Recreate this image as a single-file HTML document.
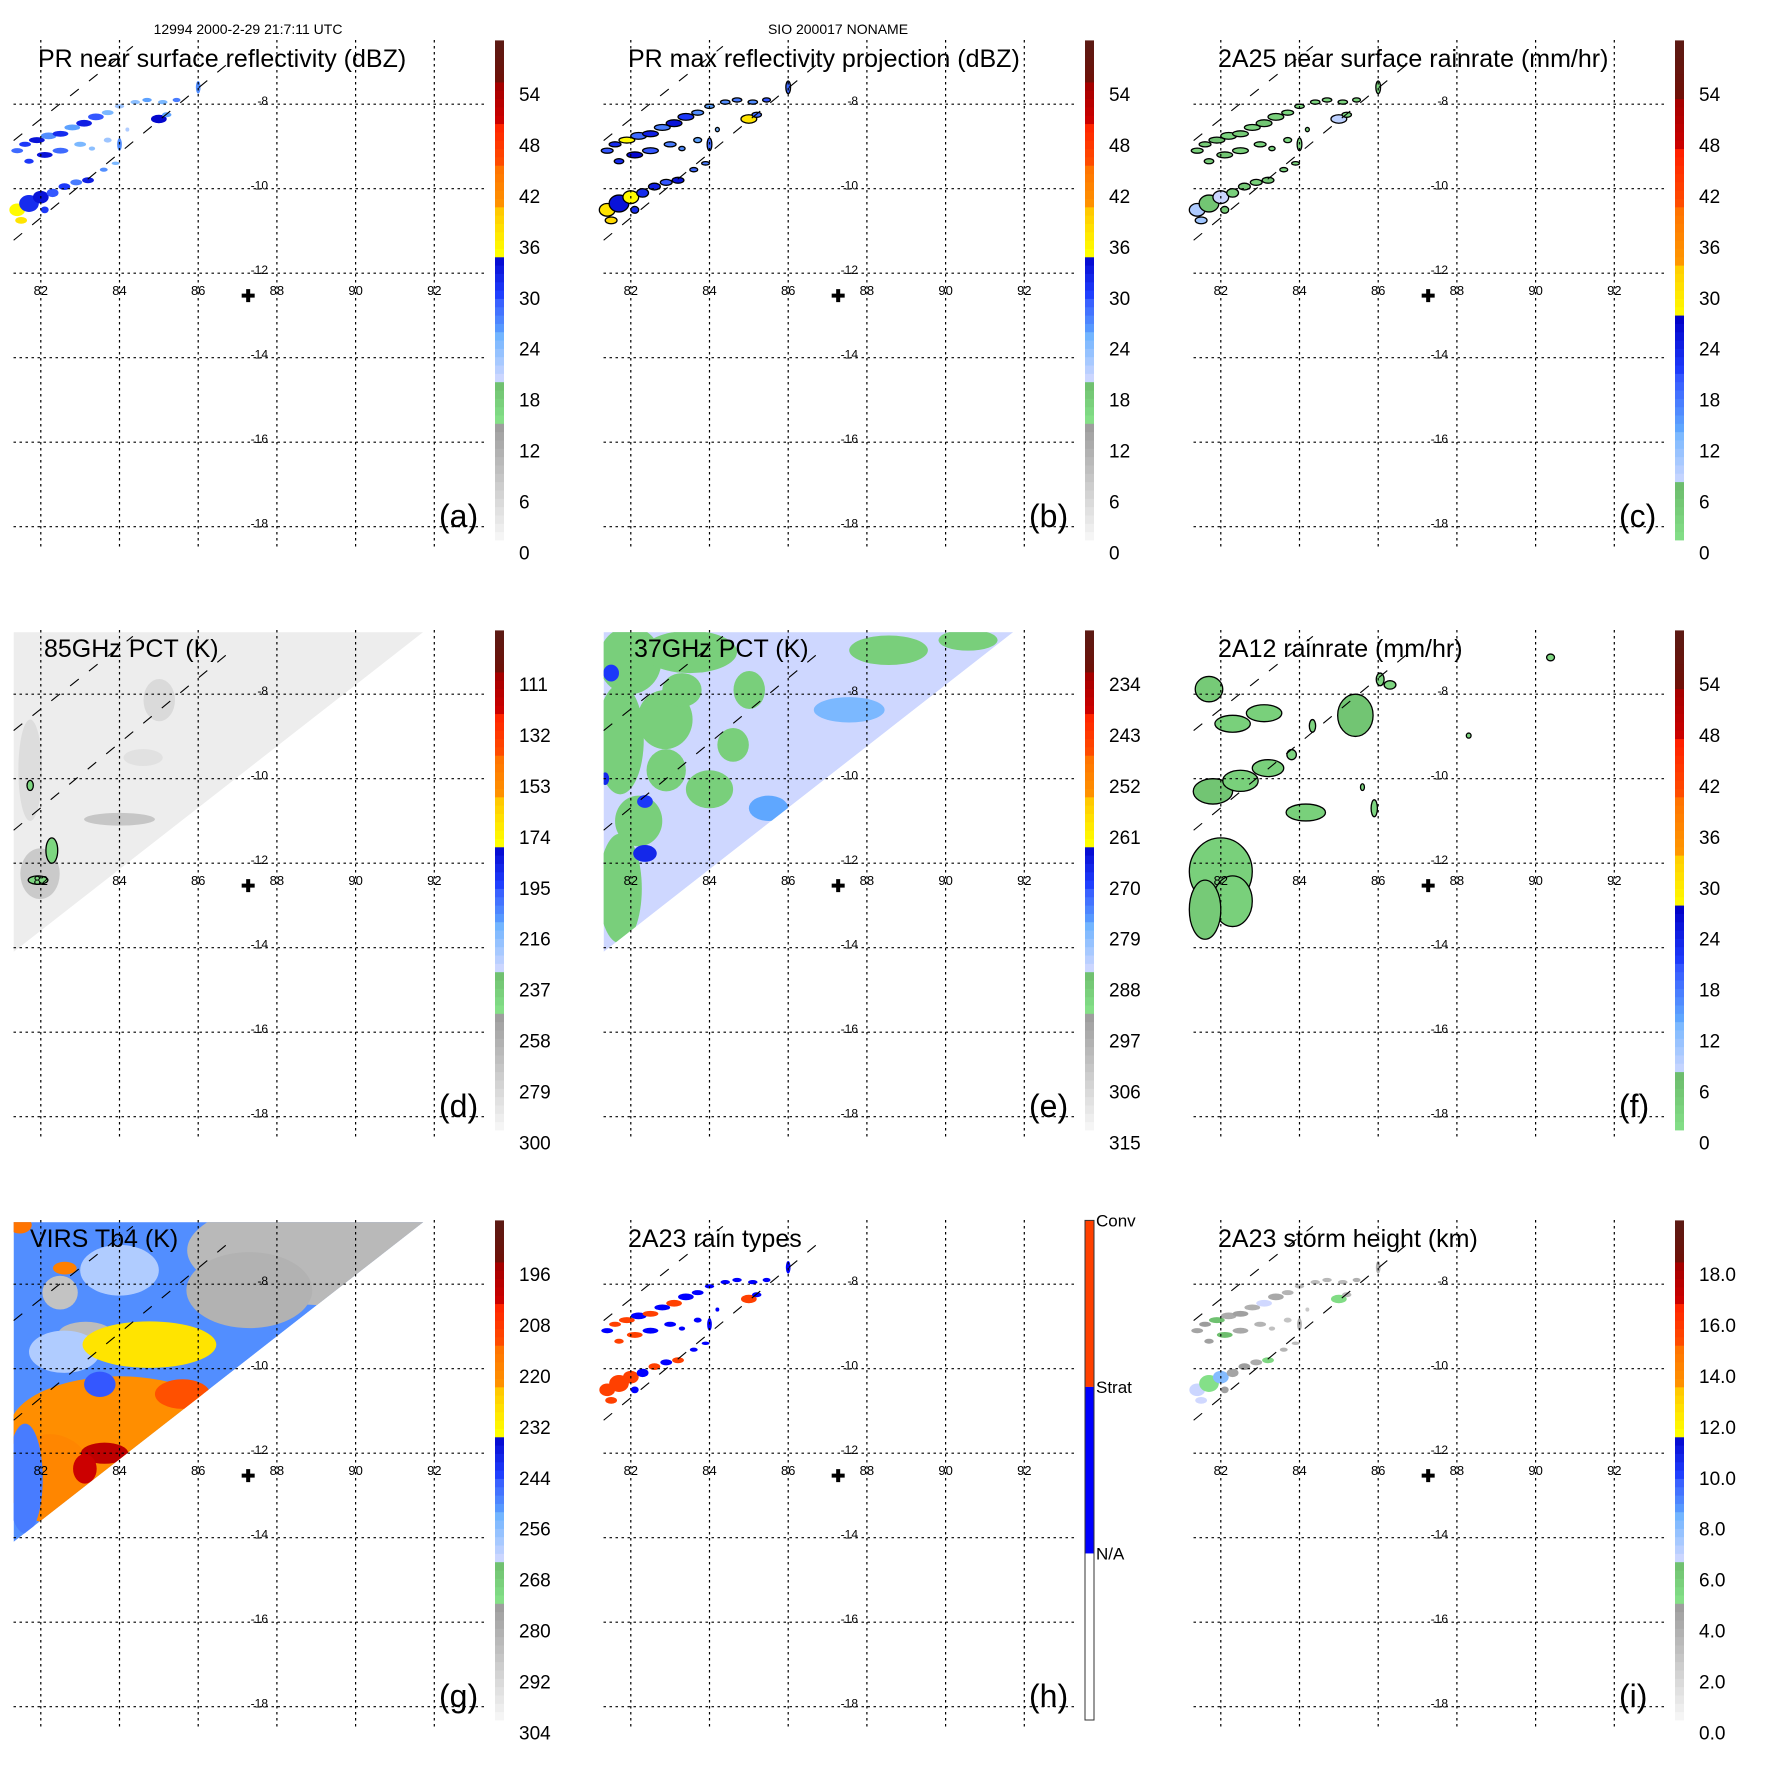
<!DOCTYPE html>
<html><head><meta charset="utf-8"><title>TRMM multi-panel</title>
<style>
html,body{margin:0;padding:0;background:#fff;}
svg{display:block;font-family:"Liberation Sans",Arial,sans-serif;}
</style></head>
<body>
<svg id="fig" xmlns="http://www.w3.org/2000/svg" width="1771" height="1771" viewBox="0 0 1771 1771">
<rect x="0" y="0" width="1771" height="1771" fill="#fff"/>
<text x="248" y="34" font-size="14" text-anchor="middle">12994 2000-2-29 21:7:11 UTC</text>
<text x="838" y="34" font-size="14" text-anchor="middle">SIO 200017 NONAME</text>
</svg>
<script>
// ---------- axis ticks ----------
const lonTicks = [82, 84, 86, 88, 90, 92];
const latTicks = [-8, -10, -12, -14, -16, -18];
const lonTickLabels = ['82', '84', '86', '88', '90', '92'];
const latTickLabels = ['-8', '-10', '-12', '-14', '-16', '-18'];

// ---------- colorbar labels ----------
const cbLabelsDbz = ['54', '48', '42', '36', '30', '24', '18', '12', '6', '0'];
const cbLabelsRain = ['54', '48', '42', '36', '30', '24', '18', '12', '6', '0'];
const cbLabels85 = ['111', '132', '153', '174', '195', '216', '237', '258', '279', '300'];
const cbLabels37 = ['234', '243', '252', '261', '270', '279', '288', '297', '306', '315'];
const cbLabelsVirs = ['196', '208', '220', '232', '244', '256', '268', '280', '292', '304'];
const cbLabelsHeight = ['18.0', '16.0', '14.0', '12.0', '10.0', '8.0', '6.0', '4.0', '2.0', '0.0'];
const cbLabelsType = ['Conv', 'Strat', 'N/A'];

// ---------- storm centre ----------
const centerLon = [87.27];
const centerLat = [-12.53];

// ---------- PR swath edges ----------
const swathUpperLon = [81.31, 84.34];
const swathUpperLat = [-8.86, -6.63];
const swathLowerLon = [81.31, 86.7];
const swathLowerLat = [-11.22, -7.08];

// ---------- TMI / VIRS swath triangle ----------
const tmiSwathLon = [81.31, 91.72, 81.31];
const tmiSwathLat = [-6.53, -6.53, -14.1];

// ---------- PR rain cells ----------
const prLon = [81.4, 81.6, 81.9, 82.2, 82.5, 82.8, 83.1, 83.4, 83.7, 84.0, 84.4, 84.7, 85.1, 85.45, 85.0, 86.0, 81.7, 82.1, 82.5, 83.0, 83.7, 84.0, 83.3, 81.4, 81.7, 82.0, 82.3, 82.6, 82.9, 83.2, 83.6, 83.9, 81.5, 82.1, 85.2, 84.2];
const prLat = [-9.1, -8.95, -8.85, -8.75, -8.7, -8.55, -8.45, -8.3, -8.2, -8.05, -7.95, -7.9, -7.95, -7.9, -8.35, -7.6, -9.35, -9.2, -9.1, -8.95, -8.85, -8.95, -9.05, -10.5, -10.35, -10.2, -10.1, -9.95, -9.85, -9.8, -9.55, -9.4, -10.75, -10.5, -8.25, -8.6];
const prRx = [0.15, 0.15, 0.2, 0.2, 0.2, 0.2, 0.2, 0.2, 0.15, 0.12, 0.12, 0.12, 0.12, 0.1, 0.2, 0.06, 0.12, 0.2, 0.2, 0.15, 0.1, 0.06, 0.08, 0.2, 0.25, 0.2, 0.15, 0.15, 0.15, 0.15, 0.1, 0.1, 0.15, 0.1, 0.12, 0.05];
const prRy = [0.06, 0.06, 0.07, 0.08, 0.07, 0.07, 0.08, 0.08, 0.06, 0.05, 0.05, 0.05, 0.05, 0.05, 0.1, 0.15, 0.06, 0.07, 0.07, 0.06, 0.06, 0.15, 0.05, 0.15, 0.2, 0.15, 0.1, 0.08, 0.07, 0.07, 0.05, 0.04, 0.08, 0.08, 0.06, 0.05];
const prDbz = [28, 30, 33, 26, 31, 25, 32, 29, 24, 22, 23, 25, 24, 27, 34, 26, 30, 33, 28, 24, 22, 26, 23, 35, 31, 33, 29, 30, 27, 32, 26, 24, 37, 30, 25, 21];
const prMaxDbz = [29, 31, 35, 28, 32, 27, 33, 30, 26, 25, 26, 27, 26, 29, 37, 28, 31, 34, 29, 27, 25, 28, 26, 37, 33, 35, 31, 32, 29, 33, 28, 27, 38, 31, 28, 24];
const prRain = [3, 4, 6, 2, 4, 2, 5, 3, 2, 1, 2, 2, 2, 3, 8, 2, 4, 5, 3, 2, 1, 2, 1, 9, 5, 7, 3, 4, 3, 5, 2, 2, 10, 4, 2, 1];
const prType = [1, 2, 2, 1, 2, 1, 2, 1, 1, 1, 1, 1, 1, 1, 2, 1, 2, 2, 1, 1, 1, 1, 1, 2, 2, 2, 1, 2, 1, 2, 1, 1, 2, 1, 1, 1];
const prHeight = [4.2, 4.6, 6.2, 3.8, 4.4, 3.6, 6.4, 4.0, 3.4, 2.8, 3.0, 3.2, 3.0, 3.6, 5.0, 3.2, 4.4, 6.3, 4.0, 3.4, 2.6, 3.4, 2.8, 6.5, 4.8, 7.8, 4.2, 4.6, 3.8, 5.2, 3.4, 3.0, 6.4, 4.4, 3.2, 2.4];

// ---------- 85 GHz PCT blobs ----------
const pct85Bg = [294];
const pct85Lon = [81.73, 85.01, 84.0, 81.98, 84.6, 82.28, 81.93, 81.73];
const pct85Lat = [-9.8, -8.14, -10.96, -12.25, -9.5, -11.7, -12.4, -10.16];
const pct85Rx = [0.3, 0.4, 0.9, 0.5, 0.5, 0.15, 0.25, 0.08];
const pct85Ry = [1.2, 0.5, 0.15, 0.6, 0.2, 0.3, 0.1, 0.12];
const pct85Val = [286, 284, 274, 276, 288, 245, 245, 245];

// ---------- 37 GHz PCT blobs ----------
const pct37Bg = [286];
const pct37Lon = [81.98, 83.5, 81.73, 82.87, 81.73, 84.0, 88.55, 90.57, 85.01, 82.2, 82.9, 83.3, 84.6, 87.55, 85.5, 82.36, 81.35, 82.36, 81.5];
const pct37Lat = [-7.2, -7.0, -9.07, -8.6, -12.6, -10.25, -6.96, -6.72, -7.9, -11.0, -9.8, -7.9, -9.2, -8.37, -10.7, -11.77, -10.0, -10.54, -7.5];
const pct37Rx = [0.8, 1.2, 0.6, 0.7, 0.55, 0.6, 1.0, 0.75, 0.4, 0.6, 0.5, 0.5, 0.4, 0.9, 0.5, 0.3, 0.1, 0.2, 0.2];
const pct37Ry = [0.8, 0.5, 1.3, 0.7, 1.3, 0.45, 0.35, 0.25, 0.45, 0.6, 0.5, 0.4, 0.4, 0.3, 0.3, 0.2, 0.15, 0.15, 0.2];
const pct37Val = [290, 290, 290, 290, 290, 290, 290, 290, 290, 290, 290, 290, 290, 279, 278, 268, 268, 270, 270];

// ---------- VIRS Tb4 blobs ----------
const virsBg = [252];
const virsLon = [89.32, 87.3, 82.49, 83.14, 82.6, 84.0, 84.76, 84.0, 82.23, 81.6, 83.5, 83.62, 83.12, 82.61, 81.47, 85.6];
const virsLat = [-7.2, -8.14, -8.2, -9.19, -9.6, -7.67, -9.43, -11.43, -12.6, -12.6, -10.37, -12.0, -12.37, -7.62, -6.6, -10.6];
const virsRx = [3.6, 1.6, 0.45, 0.7, 0.9, 1.0, 1.7, 2.8, 1.1, 0.45, 0.4, 0.6, 0.3, 0.3, 0.3, 0.7];
const virsRy = [1.3, 0.9, 0.4, 0.3, 0.5, 0.6, 0.55, 1.25, 1.05, 1.3, 0.3, 0.25, 0.35, 0.15, 0.2, 0.35];
const virsVal = [285, 283, 288, 286, 262, 262, 230, 222, 220, 250, 246, 200, 203, 218, 215, 214];

// ---------- 2A12 rain blobs ----------
const tmiRainLon = [81.7, 82.3, 83.1, 85.42, 81.8, 82.5, 83.2, 84.16, 82.0, 82.3, 81.6, 86.3, 84.33, 83.8, 85.9, 90.38, 88.3, 86.05, 85.6];
const tmiRainLat = [-7.88, -8.7, -8.45, -8.5, -10.3, -10.05, -9.75, -10.8, -12.2, -12.9, -13.1, -7.78, -8.75, -9.43, -10.7, -7.13, -8.98, -7.65, -10.2];
const tmiRainRx = [0.35, 0.45, 0.45, 0.45, 0.5, 0.45, 0.4, 0.5, 0.8, 0.5, 0.4, 0.15, 0.08, 0.12, 0.08, 0.1, 0.06, 0.1, 0.05];
const tmiRainRy = [0.3, 0.2, 0.2, 0.5, 0.3, 0.25, 0.2, 0.2, 0.8, 0.6, 0.7, 0.1, 0.15, 0.12, 0.2, 0.08, 0.06, 0.15, 0.08];
const tmiRainVal = [4, 3, 3, 5, 5, 3, 3, 3, 3, 3, 4, 2, 2, 2, 2, 2, 2, 2, 2];

// ---------- geometry helpers ----------
const NS = 'http://www.w3.org/2000/svg';
const svg = document.getElementById('fig');
const PANEL = 590;
function X(lon) { return 40.8 + 39.35 * (lon - 82); }
function Y(lat) { return 104.2 + 42.25 * (-8 - lat); }
function mk(tag, attrs, parent) {
  const e = document.createElementNS(NS, tag);
  for (const k in attrs) e.setAttribute(k, attrs[k]);
  parent.appendChild(e);
  return e;
}
function hex(c) { return [parseInt(c.substr(1, 2), 16), parseInt(c.substr(3, 2), 16), parseInt(c.substr(5, 2), 16)]; }
function lerpColor(a, b, t) {
  const A = hex(a), B = hex(b);
  const r = A.map((v, i) => Math.round(v + (B[i] - v) * t));
  return 'rgb(' + r.join(',') + ')';
}
const bandsA = [
  [0, .24, '#f8f8f8', '#989898'],
  [.24, .32, '#84e088', '#6cbc6c'],
  [.32, .41, '#d0d8ff', '#70b4ff'],
  [.41, .49, '#60a8ff', '#3050ff'],
  [.49, .575, '#2040ff', '#0000c8'],
  [.575, .66, '#ffff00', '#ffc800'],
  [.66, .75, '#ff9800', '#ff7000'],
  [.75, .835, '#ff5000', '#ff2000'],
  [.835, .915, '#d00000', '#a00000'],
  [.915, 1.001, '#701008', '#5a1a14']
];
const bandsC = bandsA.slice(1).map((b, i) => [i / 9, (i + 1) / 9 + (i === 8 ? .001 : 0), b[2], b[3]]);
function cmap(bands, f) {
  f = Math.max(0, Math.min(0.9999, f));
  for (const b of bands) if (f >= b[0] && f < b[1]) return lerpColor(b[2], b[3], (f - b[0]) / (b[1] - b[0]));
  return '#ffffff';
}
function fDbz(v) { return v / 60; }
function fRain(v) { return v / 60; }
function f85(v) { return (300 - v) * 6 / 21 / 60; }
function f37(v) { return (315 - v) * 6 / 9 / 60; }
function fVirs(v) { return (304 - v) / 2 / 60; }
function fHeight(v) { return v / 20; }

const panels = [
  { key: 'a', title: 'PR near surface reflectivity (dBZ)', tx: 38, labels: cbLabelsDbz, scheme: 'A' },
  { key: 'b', title: 'PR max reflectivity projection (dBZ)', tx: 38, labels: cbLabelsDbz, scheme: 'A' },
  { key: 'c', title: '2A25 near surface rainrate (mm/hr)', tx: 38, labels: cbLabelsRain, scheme: 'C' },
  { key: 'd', title: '85GHz PCT (K)', tx: 44, labels: cbLabels85, scheme: 'A' },
  { key: 'e', title: '37GHz PCT (K)', tx: 44, labels: cbLabels37, scheme: 'A' },
  { key: 'f', title: '2A12 rainrate (mm/hr)', tx: 38, labels: cbLabelsRain, scheme: 'C' },
  { key: 'g', title: 'VIRS Tb4 (K)', tx: 30, labels: cbLabelsVirs, scheme: 'A' },
  { key: 'h', title: '2A23 rain types', tx: 38, labels: cbLabelsType, scheme: 'H' },
  { key: 'i', title: '2A23 storm height (km)', tx: 38, labels: cbLabelsHeight, scheme: 'A' }
];

function swathPoints() {
  return tmiSwathLon.map((lo, i) => X(lo) + ',' + Y(tmiSwathLat[i])).join(' ');
}

function drawBlobs(g, lons, lats, rxs, rys, vals, colorFn, stroke, name) {
  for (let i = 0; i < lons.length; i++) {
    const e = mk('ellipse', {
      cx: X(lons[i]), cy: Y(lats[i]),
      rx: Math.max(1.2, 39.35 * rxs[i]), ry: Math.max(1.2, 42.25 * rys[i]),
      fill: colorFn(vals[i]),
      stroke: stroke ? '#000' : 'none', 'stroke-width': stroke ? 1.3 : 0
    }, g);
    
    
  }
}

function drawTmiField(g, p, bg, lons, lats, rxs, rys, vals, fFn) {
  const cid = 'clip-' + p.key;
  const defs = mk('defs', {}, g);
  const cp = mk('clipPath', { id: cid }, defs);
  mk('polygon', { points: swathPoints() }, cp);
  const field = mk('g', { 'clip-path': 'url(#' + cid + ')' }, g);
  
  
  const tri = mk('polygon', { points: swathPoints(), fill: cmap(bandsA, fFn(bg[0])) }, field);
  
  
  drawBlobs(field, lons, lats, rxs, rys, vals, v => cmap(bandsA, fFn(v)), false, 'brightness-cell');
}

panels.forEach((p, idx) => {
  const ox = (idx % 3) * PANEL, oy = Math.floor(idx / 3) * PANEL;
  const g = mk('g', { transform: 'translate(' + ox + ',' + oy + ')' }, svg);
  
  

  if (p.key === 'd') drawTmiField(g, p, pct85Bg, pct85Lon.slice(0, 5), pct85Lat.slice(0, 5), pct85Rx.slice(0, 5), pct85Ry.slice(0, 5), pct85Val.slice(0, 5), f85);
  if (p.key === 'e') drawTmiField(g, p, pct37Bg, pct37Lon, pct37Lat, pct37Rx, pct37Ry, pct37Val, f37);
  if (p.key === 'g') drawTmiField(g, p, virsBg, virsLon, virsLat, virsRx, virsRy, virsVal, fVirs);
  if (p.key === 'd') {
    const gg = mk('g', {}, g);
    drawBlobs(gg, pct85Lon.slice(5), pct85Lat.slice(5), pct85Rx.slice(5), pct85Ry.slice(5), pct85Val.slice(5), v => cmap(bandsA, f85(v)), true, 'cold-cell');
  }
  if (p.key === 'a') drawBlobs(g, prLon, prLat, prRx, prRy, prDbz, v => cmap(bandsA, fDbz(v)), false, 'reflectivity-cell');
  if (p.key === 'b') drawBlobs(g, prLon, prLat, prRx, prRy, prMaxDbz, v => cmap(bandsA, fDbz(v)), true, 'max-reflectivity-cell');
  if (p.key === 'c') drawBlobs(g, prLon, prLat, prRx, prRy, prRain, v => cmap(bandsC, fRain(v)), true, 'rainrate-cell');
  if (p.key === 'f') drawBlobs(g, tmiRainLon, tmiRainLat, tmiRainRx, tmiRainRy, tmiRainVal, v => cmap(bandsC, fRain(v)), true, 'tmi-rain-cell');
  if (p.key === 'h') drawBlobs(g, prLon, prLat, prRx, prRy, prType, v => (v === 2 ? '#ff4000' : '#0000ff'), false, 'rain-type-cell');
  if (p.key === 'i') drawBlobs(g, prLon, prLat, prRx, prRy, prHeight, v => cmap(bandsA, fHeight(v)), false, 'storm-height-cell');

  lonTicks.forEach((lo, i) => {
    const l = mk('line', { x1: X(lo), x2: X(lo), y1: 40, y2: 548, stroke: '#000', 'stroke-width': 1.2, 'stroke-dasharray': '2.5 3.5' }, g);
    
    
    const t = mk('text', { x: X(lo), y: Y(-12) + 22, 'font-size': 13, 'text-anchor': 'middle' }, g);
    t.textContent = lonTickLabels[i];
    
    
  });
  latTicks.forEach((la, i) => {
    const l = mk('line', { x1: 13.5, x2: 486, y1: Y(la), y2: Y(la), stroke: '#000', 'stroke-width': 1.2, 'stroke-dasharray': '2.5 3.5' }, g);
    
    
    const t = mk('text', { x: 268, y: Y(la) + 1, 'font-size': 12, 'text-anchor': 'end' }, g);
    t.textContent = latTickLabels[i];
    
    
  });

  [[swathUpperLon, swathUpperLat], [swathLowerLon, swathLowerLat]].forEach(s => {
    const l = mk('line', { x1: X(s[0][0]), y1: Y(s[1][0]), x2: X(s[0][1]), y2: Y(s[1][1]), stroke: '#000', 'stroke-width': 1.1, 'stroke-dasharray': '11 13' }, g);
    
    
  });

  const cx = X(centerLon[0]), cy = Y(centerLat[0]);
  const cross = mk('path', { d: 'M' + (cx - 6.5) + ' ' + cy + 'H' + (cx + 6.5) + 'M' + cx + ' ' + (cy - 6.5) + 'V' + (cy + 6.5), stroke: '#000', 'stroke-width': 4 }, g);
  
  

  const tt = mk('text', { x: p.tx, y: 67, 'font-size': 25 }, g);
  tt.textContent = p.title;
  
  
  const lt = mk('text', { x: 439, y: 527, 'font-size': 32 }, g);
  lt.textContent = '(' + p.key + ')';
  
  

  const cb = mk('g', {}, g);
  
  
  const top = 40.4, bot = 540, bx = 495, bw = 9;
  if (p.scheme === 'H') {
    const third = (bot - top) / 3;
    const cols = ['#ff4000', '#0000ff', '#ffffff'];
    cols.forEach((c, i) => {
      const r = mk('rect', { x: bx, y: top + i * third, width: bw, height: third, fill: c }, cb);
      
      
    });
    const o = mk('rect', { x: bx, y: top, width: bw, height: bot - top, fill: 'none', stroke: '#333', 'stroke-width': 1 }, cb);
    
    
    cbLabelsType.forEach((s, i) => {
      const t = mk('text', { x: bx + bw + 2, y: top + i * third + 6, 'font-size': 17 }, cb);
      t.textContent = s;
      
      
    });
  } else {
    const bands = p.scheme === 'C' ? bandsC : bandsA;
    const n = 60, h = (bot - top) / n;
    for (let i = 0; i < n; i++) {
      const r = mk('rect', { x: bx, y: bot - (i + 1) * h, width: bw, height: h + 0.4, fill: cmap(bands, (i + 0.5) / n) }, cb);
      
      
    }
    p.labels.forEach((s, i) => {
      const yc = 94.2 + i * 50.9;
      const t = mk('text', { x: 519, y: yc + 7, 'font-size': 19 }, cb);
      t.textContent = s;
      
      
    });
  }
});
</script>
</body></html>
